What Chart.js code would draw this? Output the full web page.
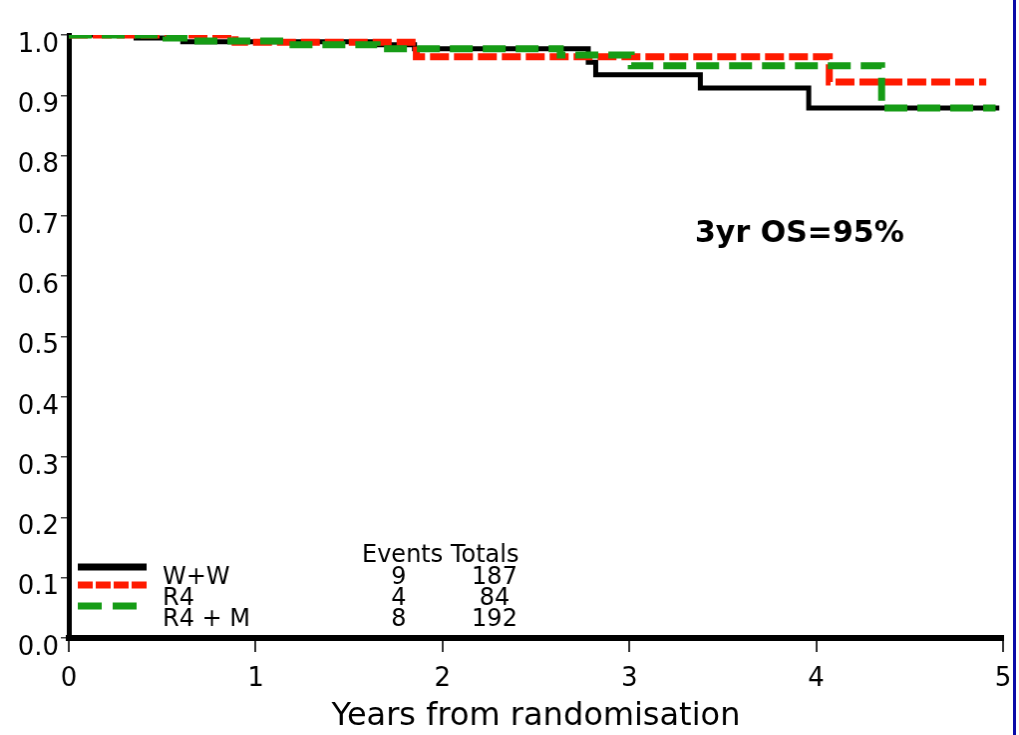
<!DOCTYPE html>
<html>
<head>
<meta charset="utf-8">
<script src="https://cdn.jsdelivr.net/npm/chart.js@4/dist/chart.umd.min.js"></script>
<style>
  body { margin: 0; background: #fff; }
  #myChart { display: block; border-right: 3px solid #0a0aa8; }
</style>
</head>
<body>
<canvas id="myChart" width="1016" height="735"></canvas>
<script>
// Kaplan-Meier steps (years, survival)
var wwTime = [0, 0.36, 0.61, 1.66, 1.85, 2.78, 2.82, 3.38, 3.96, 4.98];
var wwSurv = [1.0, 0.995, 0.989, 0.984, 0.977, 0.955, 0.934, 0.912, 0.879, 0.879];

var r4Time = [0, 0.89, 1.86, 4.07, 4.91];
var r4Surv = [1.0, 0.988, 0.964, 0.922, 0.922];

var r4mTime = [0, 0.52, 0.67, 1.15, 1.65, 2.63, 3.01, 4.35, 4.96];
var r4mSurv = [1.0, 0.995, 0.99, 0.984, 0.977, 0.967, 0.949, 0.879, 0.879];

var seriesNames = ["W+W", "R4", "R4 + M"];
var events = [9, 4, 8];
var totals = [187, 84, 192];

var xTicks = [0, 1, 2, 3, 4, 5];
var yTicks = [0, 0.1, 0.2, 0.3, 0.4, 0.5, 0.6, 0.7, 0.8, 0.9, 1.0];

var osNote = "3yr OS=95%";

var colors = ["#000000", "#ff1a00", "#169c16"];
var widths = [5, 7, 7];
var dashes = [[], [19, 5], [23, 10]];
var legendDashes = [[], [15, 3], [24, 11]];

function toPoints(t, s) {
  return t.map(function(v, i) { return { x: v, y: s[i] }; });
}

var curves = [toPoints(wwTime, wwSurv), toPoints(r4Time, r4Surv), toPoints(r4mTime, r4mSurv)];

var datasets = curves.map(function(pts, i) {
  return {
    label: seriesNames[i],
    data: pts,
    borderColor: colors[i],
    borderWidth: widths[i],
    borderDash: dashes[i],
    borderCapStyle: "butt",
    stepped: true,
    pointRadius: 0,
    fill: false,
    order: 3 - i
  };
});

// legend table + OS note
var notes = {
  id: "notes",
  afterDraw: function(chart) {
    var ctx = chart.ctx;
    ctx.save();
    var lineY = [567, 585, 606];
    var textY = [584, 605, 626];
    for (var i = 0; i < seriesNames.length; i++) {
      ctx.strokeStyle = colors[i];
      ctx.lineWidth = 7;
      ctx.setLineDash(legendDashes[i]);
      ctx.beginPath();
      ctx.moveTo(78, lineY[i]);
      ctx.lineTo(147, lineY[i]);
      ctx.stroke();
    }
    ctx.setLineDash([]);
    ctx.fillStyle = "#000";
    ctx.font = "24px 'DejaVu Sans'";
    ctx.textBaseline = "alphabetic";
    ctx.textAlign = "left";
    ctx.fillText("Events Totals", 363, 562);
    for (var j = 0; j < seriesNames.length; j++) {
      ctx.textAlign = "left";
      ctx.fillText(seriesNames[j], 163, textY[j]);
      ctx.textAlign = "center";
      ctx.fillText(String(events[j]), 400, textY[j]);
      ctx.fillText(String(totals[j]), 496, textY[j]);
    }
    ctx.textAlign = "left";
    ctx.font = "bold 30px 'DejaVu Sans'";
    ctx.fillText(osNote, 697, 242);
    ctx.restore();
  }
};

new Chart(document.getElementById("myChart"), {
  type: "line",
  data: { datasets: datasets },
  plugins: [notes],
  options: {
    responsive: false,
    animation: false,
    events: [],
    layout: { padding: { top: 35, right: 10, left: 0, bottom: 0 } },
    plugins: { legend: { display: false }, tooltip: { enabled: false } },
    scales: {
      x: {
        type: "linear",
        min: 0,
        max: 5,
        afterBuildTicks: function(scale) {
          scale.ticks = xTicks.map(function(v) { return { value: v }; });
        },
        afterFit: function(scale) {
          scale.height = 97;
          scale.paddingLeft = 0;
          scale.paddingRight = 0;
        },
        border: { display: true, width: 6, color: "#000" },
        grid: { drawOnChartArea: false, drawTicks: true, tickLength: 14, lineWidth: 2, color: "#333" },
        ticks: {
          padding: 12,
          maxRotation: 0,
          autoSkip: false,
          color: "#000",
          font: { family: "'DejaVu Sans'", size: 26 }
        },
        title: {
          display: true,
          text: "Years from randomisation",
          color: "#000",
          padding: { top: 0, bottom: 2 },
          font: { family: "'DejaVu Sans'", size: 32, lineHeight: 1 }
        }
      },
      y: {
        min: 0,
        max: 1,
        afterBuildTicks: function(scale) {
          scale.ticks = yTicks.map(function(v) { return { value: v }; });
        },
        afterFit: function(scale) {
          scale.width = 69;
          scale.paddingTop = 0;
          scale.paddingBottom = 0;
        },
        border: { display: true, width: 5, color: "#000" },
        grid: { drawOnChartArea: false, drawTicks: true, tickLength: 8, lineWidth: 1.5, color: "#444" },
        ticks: {
          padding: 2,
          labelOffset: 10,
          autoSkip: false,
          color: "#000",
          font: { family: "'DejaVu Sans'", size: 26 },
          callback: function(v) { return Number(v).toFixed(1); }
        }
      }
    }
  }
});
</script>
</body>
</html>
